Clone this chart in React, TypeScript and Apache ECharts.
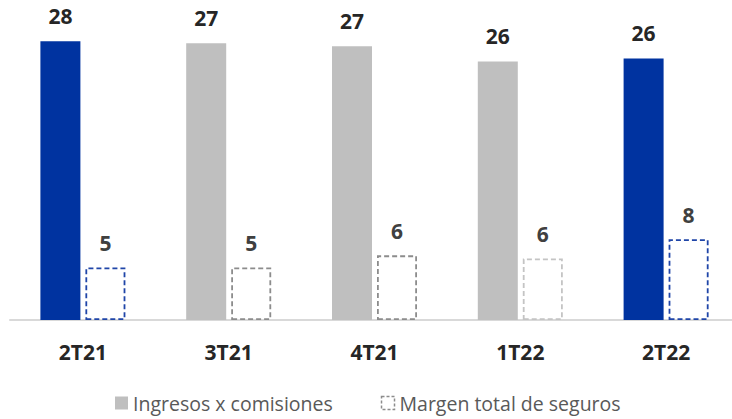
import React, { useEffect, useRef } from "react";
import * as echarts from "echarts";

const categories = ["2T21", "3T21", "4T21", "1T22", "2T22"];
const ingresosValues = [27.6, 27.4, 27.1, 25.6, 25.9];
const margenValues = [5.2, 5.2, 6.4, 6.1, 8.0];
const ingresosColors = ["#0033A0", "#BFBFBF", "#BFBFBF", "#BFBFBF", "#0033A0"];
const margenBorderColors = ["#1F45A8", "#8C8C8C", "#8C8C8C", "#C4C4C4", "#1F45A8"];
const seriesNames = ["Ingresos x comisiones", "Margen total de seguros"];

export default function App() {
  const ref = useRef<HTMLDivElement>(null);
  useEffect(() => {
    if (!ref.current) return;
    const chart = echarts.init(ref.current, null, { renderer: "svg" });
    const font = "'Open Sans', 'DejaVu Sans', sans-serif";
    chart.setOption({
      animation: false,
      backgroundColor: "#FFFFFF",
      textStyle: { fontFamily: font },
      grid: { left: 10, width: 729, top: 17, height: 303, containLabel: false },
      legend: {
        left: 110,
        top: 388,
        itemGap: 48,
        itemWidth: 13,
        itemHeight: 13,
        icon: "rect",
        textStyle: { fontFamily: font, fontSize: 19.5, color: "#595959" },
        data: [
          { name: seriesNames[0], itemStyle: { color: "#BFBFBF" } },
          {
            name: seriesNames[1],
            itemStyle: {
              color: "#FFFFFF",
              borderColor: "#8C8C8C",
              borderWidth: 1.5,
              borderType: [3, 2],
            },
          },
        ],
      },
      xAxis: {
        type: "category",
        data: categories,
        axisLine: { show: true, lineStyle: { color: "#D9D9D9", width: 2 } },
        axisTick: { show: false },
        axisLabel: {
          margin: 21,
          fontFamily: font,
          fontSize: 21,
          fontWeight: "bold",
          color: "#262626",
        },
      },
      yAxis: {
        type: "value",
        min: 0,
        max: 30,
        show: false,
        splitLine: { show: false },
      },
      series: [
        {
          name: seriesNames[0],
          type: "bar",
          barWidth: 40,
          barGap: "12.5%",
          data: ingresosValues.map((v, i) => ({
            value: v,
            itemStyle: { color: ingresosColors[i] },
          })),
          itemStyle: { color: "#BFBFBF" },
          label: {
            show: true,
            position: "top",
            distance: 15,
            fontFamily: font,
            fontSize: 21,
            fontWeight: "bold",
            color: "#262626",
            formatter: (p: any) => String(Math.round(p.value)),
          },
        },
        {
          name: seriesNames[1],
          type: "bar",
          barWidth: 40,
          data: margenValues.map((v, i) => ({
            value: v,
            itemStyle: {
              color: "#FFFFFF",
              borderColor: margenBorderColors[i],
              borderWidth: 1.8,
              borderType: [5, 3],
            },
          })),
          itemStyle: {
            color: "#FFFFFF",
            borderColor: "#8C8C8C",
            borderWidth: 1.8,
            borderType: [5, 3],
          },
          label: {
            show: true,
            position: "top",
            distance: 14,
            fontFamily: font,
            fontSize: 21,
            fontWeight: "bold",
            color: "#404040",
            formatter: (p: any) => String(Math.round(p.value)),
          },
        },
      ],
    });
    return () => chart.dispose();
  }, []);
  return (
    <div
      ref={ref}
      style={{ position: "fixed", left: 0, top: 0, width: 745, height: 419, background: "#fff" }}
    />
  );
}
